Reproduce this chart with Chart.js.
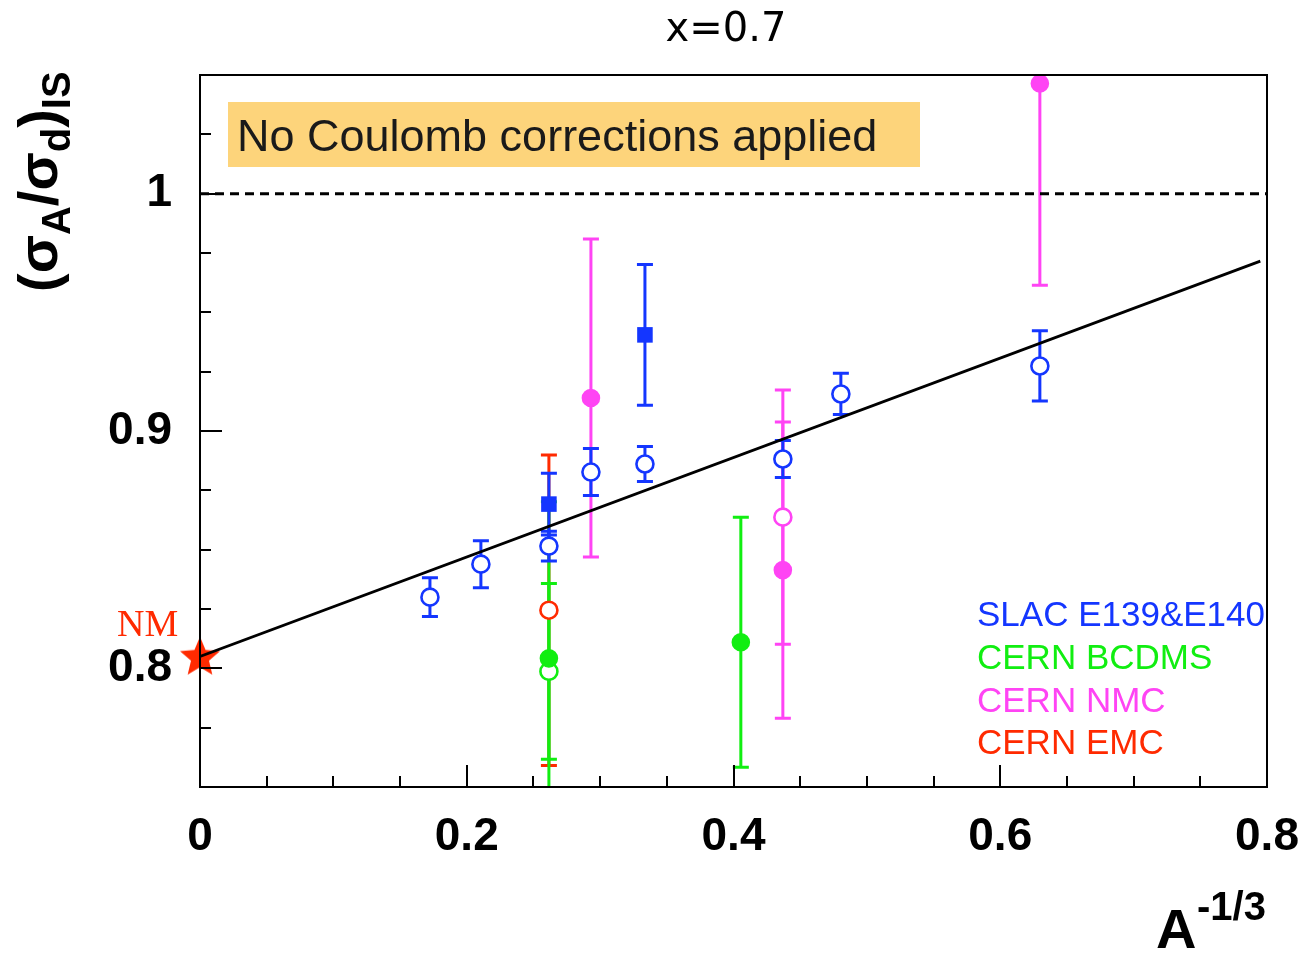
<!DOCTYPE html>
<html>
<head>
<meta charset="utf-8">
<script src="https://cdn.jsdelivr.net/npm/chart.js@4.4.1/dist/chart.umd.min.js"></script>
<style>
  html, body { margin: 0; padding: 0; background: #ffffff; }
  #wrap { width: 1305px; height: 955px; }
</style>
</head>
<body>
<div id="wrap"><canvas id="c" width="1305" height="955"></canvas></div>
<script>
// ---------------- data ----------------
const xTickLabels = ['0', '0.2', '0.4', '0.6', '0.8'];
const yTickLabels = ['0.8', '0.9', '1'];
const yTickValues = [0.8, 0.9, 1.0];

// SLAC E139 & E140 – open circles
const slacOpenX   = [0.1724, 0.2106, 0.2616, 0.2931, 0.3336, 0.4370, 0.4805, 0.6297];
const slacOpenY   = [0.8300, 0.8439, 0.8515, 0.8827, 0.8861, 0.8882, 0.9156, 0.9274];
const slacOpenErr = [0.0082, 0.0099, 0.0063, 0.0099, 0.0074, 0.0078, 0.0087, 0.0148];
// SLAC – filled squares
const slacSqX   = [0.2616, 0.3336];
const slacSqY   = [0.8692, 0.9405];
const slacSqErr = [0.0130, 0.0297];
// CERN BCDMS
const bcdmsFillX   = [0.2616, 0.4055];
const bcdmsFillY   = [0.8042, 0.8110];
const bcdmsFillErr = [0.0660, 0.0527];
const bcdmsOpenX   = [0.2616];
const bcdmsOpenY   = [0.7987];
const bcdmsOpenErr = [0.0370];
// CERN NMC
const nmcFillX   = [0.2931, 0.4370, 0.6297];
const nmcFillY   = [0.9139, 0.8414, 1.0464];
const nmcFillErr = [0.0670, 0.0624, 0.0850];
const nmcOpenX   = [0.4370];
const nmcOpenY   = [0.8637];
const nmcOpenErr = [0.0536];
// CERN EMC
const emcOpenX   = [0.2616];
const emcOpenY   = [0.8245];
const emcOpenErr = [0.0654];
// nuclear matter point
const nmX = [0.0];
const nmY = [0.8045];
// linear fit
const fitX = [0.0, 0.795];
const fitY = [0.805, 0.9716];
// unity reference line
const unityX = [0.0, 0.8];
const unityY = [1.0, 1.0];

// ---------------- styles ----------------
const BLUE = '#1436ff';
const GREEN = '#11ee11';
const MAGENTA = '#ff44f4';
const RED = '#ff2a00';

function pts(xs, ys) { return xs.map((x, i) => ({ x: x, y: ys[i] })); }

// filled five-pointed star image for the NM marker
function makeStar(R, color) {
  const cv = document.createElement('canvas');
  const s = Math.ceil(2 * R + 4);
  cv.width = s; cv.height = s;
  const g = cv.getContext('2d');
  const cx = s / 2, cy = s / 2, r = R * 0.45;
  g.beginPath();
  for (let k = 0; k < 10; k++) {
    const rad = (k % 2 === 0) ? R : r;
    const a = -Math.PI / 2 + k * Math.PI / 5;
    const px = cx + rad * Math.cos(a), py = cy + rad * Math.sin(a);
    if (k === 0) g.moveTo(px, py); else g.lineTo(px, py);
  }
  g.closePath();
  g.fillStyle = color;
  g.fill();
  return cv;
}
const starImg = makeStar(21, RED);

function isMult(v, step) { const q = v / step; return Math.abs(q - Math.round(q)) < 1e-6; }

// error bars drawn through the chart's scales
const errorBarPlugin = {
  id: 'errorBars',
  beforeDatasetsDraw(chart) {
    const ctx = chart.ctx, a = chart.chartArea;
    const xs = chart.scales.x, ys = chart.scales.y;
    // text box (behind data)
    ctx.save();
    ctx.fillStyle = '#fdd47b';
    ctx.fillRect(228, 102, 692, 65);
    ctx.fillStyle = '#1a1a1a';
    ctx.font = '45px "Liberation Sans", Arial, sans-serif';
    ctx.textBaseline = 'alphabetic';
    ctx.textAlign = 'left';
    ctx.fillText('No Coulomb corrections applied', 237, 151);
    ctx.restore();

    ctx.save();
    ctx.beginPath();
    ctx.rect(a.left, a.top, a.right - a.left, a.bottom - a.top);
    ctx.clip();
    chart.data.datasets.forEach(ds => {
      if (!ds.errors) return;
      ctx.strokeStyle = ds.barColor;
      ctx.lineWidth = 3;
      ds.data.forEach((p, i) => {
        const e = ds.errors[i];
        const px = xs.getPixelForValue(p.x);
        const y1 = ys.getPixelForValue(p.y + e);
        const y2 = ys.getPixelForValue(p.y - e);
        ctx.beginPath();
        ctx.moveTo(px, y1); ctx.lineTo(px, y2);
        ctx.moveTo(px - 8, y1); ctx.lineTo(px + 8, y1);
        ctx.moveTo(px - 8, y2); ctx.lineTo(px + 8, y2);
        ctx.stroke();
      });
    });
    ctx.restore();
  },
  afterDraw(chart) {
    const ctx = chart.ctx, a = chart.chartArea;
    const xs = chart.scales.x, ys = chart.scales.y;
    ctx.save();
    // frame
    ctx.strokeStyle = '#000';
    ctx.lineWidth = 2;
    ctx.strokeRect(a.left, a.top, a.right - a.left, a.bottom - a.top);
    // inner ticks
    ctx.lineWidth = 2;
    ctx.beginPath();
    ys.ticks.forEach(t => {
      const py = Math.round(ys.getPixelForValue(t.value));
      const len = isMult(t.value, 0.1) ? 22 : 11;
      ctx.moveTo(a.left, py); ctx.lineTo(a.left + len, py);
    });
    xs.ticks.forEach(t => {
      const px = Math.round(xs.getPixelForValue(t.value));
      const len = isMult(t.value, 0.2) ? 22 : 11;
      ctx.moveTo(px, a.bottom); ctx.lineTo(px, a.bottom - len);
    });
    ctx.stroke();

    // title
    ctx.fillStyle = '#000';
    ctx.textAlign = 'center';
    ctx.textBaseline = 'alphabetic';
    ctx.font = '40px "DejaVu Sans", sans-serif';
    ctx.fillText('x=0.7', 726, 41);

    // x axis title  A^{-1/3}
    ctx.textAlign = 'left';
    ctx.font = 'bold 56px "Liberation Sans", Arial, sans-serif';
    ctx.fillText('A', 1156, 948);
    ctx.font = 'bold 40px "Liberation Sans", Arial, sans-serif';
    ctx.fillText('-1/3', 1197, 920);

    // y axis title (σA/σd)IS rotated
    ctx.save();
    ctx.translate(57, 292);
    ctx.rotate(-Math.PI / 2);
    const mainF = 'bold 56px "Liberation Sans", Arial, sans-serif';
    const subF = 'bold 40px "Liberation Sans", Arial, sans-serif';
    const pieces = [['(', mainF, 0], ['σ', mainF, 0], ['A', subF, 13], ['/', mainF, 0],
                    ['σ', mainF, 0], ['d', subF, 13], [')', mainF, 0], ['IS', subF, 13]];
    let cx = 0;
    pieces.forEach(p => {
      ctx.font = p[1];
      ctx.fillText(p[0], cx, p[2]);
      cx += ctx.measureText(p[0]).width;
    });
    ctx.restore();

    // NM label
    ctx.fillStyle = RED;
    ctx.font = '38px "Liberation Serif", "Times New Roman", serif';
    ctx.fillText('NM', 117, 636);

    // legend texts
    ctx.font = '35px "Liberation Sans", Arial, sans-serif';
    const leg = [['SLAC E139&E140', BLUE, 626], ['CERN BCDMS', GREEN, 669],
                 ['CERN NMC', MAGENTA, 712], ['CERN EMC', RED, 754]];
    leg.forEach(l => { ctx.fillStyle = l[1]; ctx.fillText(l[0], 977, l[2]); });
    ctx.restore();
  }
};

function series(xs, ys, errs, color, style, radius, fill, extra) {
  return Object.assign({
    data: pts(xs, ys),
    errors: errs,
    barColor: color,
    showLine: false,
    pointStyle: style,
    pointRadius: radius,
    pointHoverRadius: radius,
    pointBorderWidth: 2.6,
    borderColor: color,
    pointBorderColor: color,
    pointBackgroundColor: fill ? color : '#ffffff',
    backgroundColor: fill ? color : '#ffffff'
  }, extra || {});
}

new Chart(document.getElementById('c'), {
  type: 'scatter',
  data: {
    datasets: [
      { data: pts(fitX, fitY), showLine: true, borderColor: '#000', borderWidth: 2.8, pointRadius: 0, fill: false },
      { data: pts(unityX, unityY), showLine: true, borderColor: '#000', borderWidth: 3, borderDash: [9, 6], pointRadius: 0, fill: false },
      series(emcOpenX, emcOpenY, emcOpenErr, RED, 'circle', 8.5, false),
      series(bcdmsFillX, bcdmsFillY, bcdmsFillErr, GREEN, 'circle', 8, true),
      series(bcdmsOpenX, bcdmsOpenY, bcdmsOpenErr, GREEN, 'circle', 8.5, false),
      series(nmcFillX, nmcFillY, nmcFillErr, MAGENTA, 'circle', 8, true),
      series(nmcOpenX, nmcOpenY, nmcOpenErr, MAGENTA, 'circle', 8.5, false),
      series(slacOpenX, slacOpenY, slacOpenErr, BLUE, 'circle', 8.5, false),
      series(slacSqX, slacSqY, slacSqErr, BLUE, 'rect', 11, true, { pointBorderWidth: 0 }),
      { data: pts(nmX, nmY), showLine: false, pointStyle: starImg, pointRadius: 21, clip: false }
    ]
  },
  options: {
    responsive: false,
    animation: false,
    devicePixelRatio: 1,
    layout: { padding: { left: 0, top: 75, right: 38, bottom: 0 } },
    plugins: { legend: { display: false }, tooltip: { enabled: false }, title: { display: false } },
    scales: {
      x: {
        type: 'linear', min: 0, max: 0.8,
        grid: { display: false, drawTicks: false },
        border: { display: false },
        ticks: {
          stepSize: 0.05, autoSkip: false, maxRotation: 0, padding: 23, color: '#000',
          font: { family: '"Liberation Sans", Arial, sans-serif', size: 46, weight: 'bold' },
          callback: v => isMult(v, 0.2) ? xTickLabels[Math.round(v / 0.2)] : ''
        },
        afterFit: s => { s.height = 168; s.paddingLeft = 0; s.paddingRight = 0; }
      },
      y: {
        type: 'linear', min: 0.75, max: 1.05,
        grid: { display: false, drawTicks: false },
        border: { display: false },
        ticks: {
          stepSize: 0.025, autoSkip: false, padding: 28, color: '#000',
          font: { family: '"Liberation Sans", Arial, sans-serif', size: 46, weight: 'bold' },
          callback: v => {
            const k = yTickValues.findIndex(t => Math.abs(t - v) < 1e-6);
            return k >= 0 ? yTickLabels[k] : '';
          }
        },
        afterFit: s => { s.width = 200; s.paddingTop = 0; s.paddingBottom = 0; }
      }
    }
  },
  plugins: [errorBarPlugin]
});
</script>
</body>
</html>
